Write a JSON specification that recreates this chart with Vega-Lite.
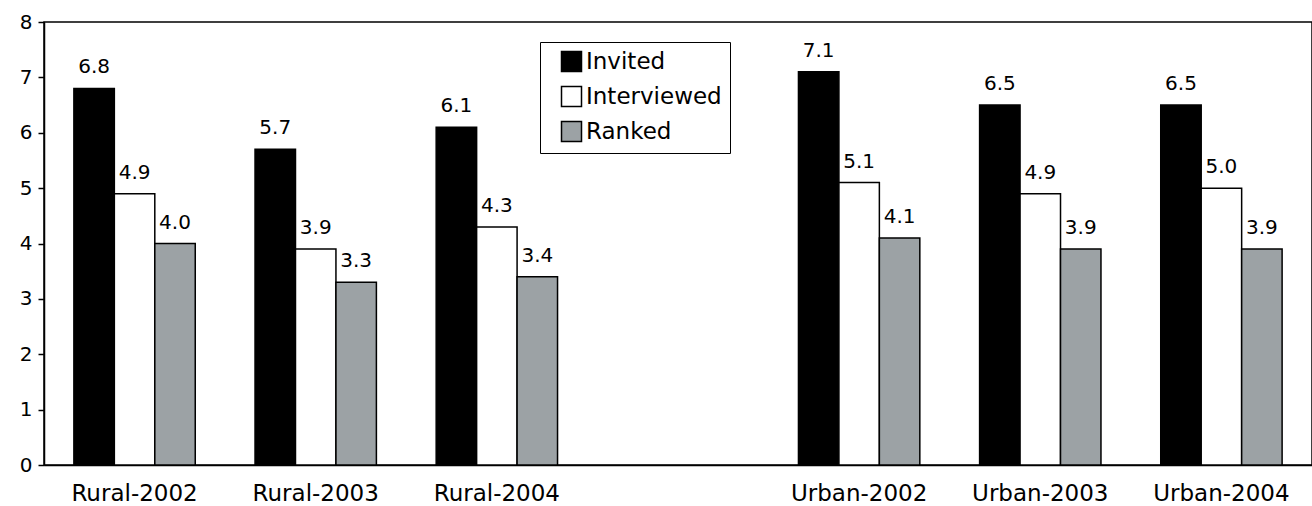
{
  "$schema": "https://vega.github.io/schema/vega-lite/v6.json",
  "width": 1268,
  "height": 443,
  "autosize": {"type": "none"},
  "padding": {"left": 44, "top": 22, "right": 0, "bottom": 41},
  "background": "white",
  "config": {
    "font": "DejaVu Sans",
    "view": {"stroke": "black", "strokeWidth": 1.5}
  },
  "data": {
    "values": [
      {"category": "Rural-2002", "series": "Invited", "value": 6.8},
      {"category": "Rural-2002", "series": "Interviewed", "value": 4.9},
      {"category": "Rural-2002", "series": "Ranked", "value": 4.0},
      {"category": "Rural-2003", "series": "Invited", "value": 5.7},
      {"category": "Rural-2003", "series": "Interviewed", "value": 3.9},
      {"category": "Rural-2003", "series": "Ranked", "value": 3.3},
      {"category": "Rural-2004", "series": "Invited", "value": 6.1},
      {"category": "Rural-2004", "series": "Interviewed", "value": 4.3},
      {"category": "Rural-2004", "series": "Ranked", "value": 3.4},
      {"category": "Urban-2002", "series": "Invited", "value": 7.1},
      {"category": "Urban-2002", "series": "Interviewed", "value": 5.1},
      {"category": "Urban-2002", "series": "Ranked", "value": 4.1},
      {"category": "Urban-2003", "series": "Invited", "value": 6.5},
      {"category": "Urban-2003", "series": "Interviewed", "value": 4.9},
      {"category": "Urban-2003", "series": "Ranked", "value": 3.9},
      {"category": "Urban-2004", "series": "Invited", "value": 6.5},
      {"category": "Urban-2004", "series": "Interviewed", "value": 5.0},
      {"category": "Urban-2004", "series": "Ranked", "value": 3.9}
    ]
  },
  "encoding": {
    "x": {
      "field": "category",
      "type": "nominal",
      "sort": null,
      "scale": {
        "domain": ["Rural-2002", "Rural-2003", "Rural-2004", " ", "Urban-2002", "Urban-2003", "Urban-2004"],
        "paddingInner": 0.33,
        "paddingOuter": 0.165
      },
      "axis": {
        "title": null,
        "labelAngle": 0,
        "ticks": false,
        "labelPadding": 17,
        "labelFontSize": 23,
        "labelColor": "black",
        "domainColor": "black",
        "domainWidth": 1.5
      }
    },
    "xOffset": {
      "field": "series",
      "type": "nominal",
      "sort": ["Invited", "Interviewed", "Ranked"],
      "scale": {"paddingInner": 0, "paddingOuter": 0}
    },
    "y": {
      "field": "value",
      "type": "quantitative",
      "scale": {"domain": [0, 8], "nice": false},
      "axis": {
        "title": null,
        "values": [0, 1, 2, 3, 4, 5, 6, 7, 8],
        "grid": false,
        "tickSize": 6,
        "tickColor": "black",
        "tickWidth": 1.5,
        "labelFontSize": 20,
        "labelColor": "black",
        "labelPadding": 6,
        "domainColor": "black",
        "domainWidth": 1.5
      }
    }
  },
  "layer": [
    {
      "mark": {"type": "bar", "stroke": "black", "strokeWidth": 1.5},
      "encoding": {
        "fill": {
          "field": "series",
          "type": "nominal",
          "scale": {
            "domain": ["Invited", "Interviewed", "Ranked"],
            "range": ["#000000", "#ffffff", "#9ca2a5"]
          },
          "legend": {
            "title": null,
            "orient": "none",
            "legendX": 496,
            "legendY": 20,
            "padding": 8,
            "strokeColor": "black",
            "fillColor": "white",
            "symbolType": "square",
            "symbolSize": 400,
            "symbolStrokeColor": "black",
            "symbolStrokeWidth": 1.5,
            "symbolOffset": 12,
            "labelFontSize": 23,
            "labelColor": "black",
            "labelOffset": 3,
            "rowPadding": 8
          }
        }
      }
    },
    {
      "mark": {"type": "text", "baseline": "bottom", "dy": -11, "fontSize": 20, "color": "black"},
      "encoding": {
        "text": {"field": "value", "type": "quantitative", "format": ".1f"}
      }
    }
  ]
}
